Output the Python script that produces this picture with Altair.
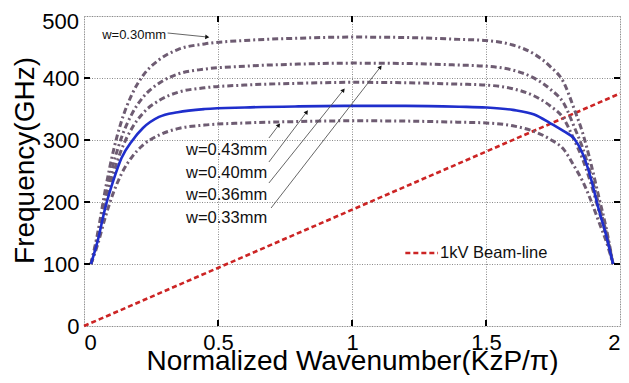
import math
import altair as alt
import pandas as pd

# ---- data ----
k_vals = [0.026, 0.05, 0.08, 0.11, 0.14, 0.18, 0.22, 0.28, 0.35, 0.45, 0.6, 0.8, 1.0,
          1.2, 1.4, 1.5, 1.6, 1.68, 1.74, 1.79, 1.83, 1.86, 1.89, 1.92, 1.95, 1.974]

f_w030 = [100, 147.6, 220.8, 283, 330.6, 374.5, 403.8, 429.4, 445.9, 455, 460.5, 464.2, 466,
          465.3, 462.3, 460.5, 453.2, 438.6, 418.4, 392.8, 348.9, 312.3, 264.7, 209.8, 154.9, 100]
f_w033 = [100, 142.1, 206.9, 262, 304.1, 343, 368.9, 391.6, 406.2, 414.3, 419.1, 422.4, 424,
          423.4, 420.8, 419.1, 412.7, 399.7, 381.9, 359.2, 320.3, 287.9, 245.8, 197.2, 148.6, 100]
f_w036 = [100, 138.1, 196.7, 246.5, 284.6, 319.8, 343.2, 363.7, 376.9, 384.2, 388.6, 391.5, 393,
          392.4, 390.1, 388.6, 382.7, 371, 354.9, 334.4, 299.2, 269.9, 231.9, 187.9, 144, 100]
f_w043 = [100, 130, 176.2, 215.5, 245.5, 273.3, 291.7, 307.9, 318.3, 324.1, 327.5, 329.8, 331,
          330.5, 328.7, 327.5, 322.9, 313.7, 301, 284.8, 257.1, 234, 204, 169.3, 134.7, 100]
f_w040 = [100, 135.7, 191.8, 235.2, 270.9, 298.9, 319.3, 337.2, 344.8, 349.9, 352.5, 354.2, 355,
          355, 353.7, 352.5, 348.6, 341, 327, 314.2, 301.5, 278.5, 240.3, 189.3, 143.4, 100]

beam_k = [0, 2]
beam_f = [0, 375]

x_ticks = [0, 0.5, 1, 1.5, 2]
y_ticks = [0, 100, 200, 300, 400, 500]
x_inner = [0.5, 1, 1.5]
y_inner = [100, 200, 300, 400]

# annotation labels (data coordinates)
lab_text = ["w=0.43mm", "w=0.40mm", "w=0.36mm", "w=0.33mm"]
lab_x = [0.532, 0.532, 0.532, 0.532]
lab_y = [284, 247, 211, 174]
top_text, top_x, top_y = "w=0.30mm", 0.187, 470
arr_x1 = [0.312, 0.690, 0.690, 0.690, 0.698]
arr_y1 = [472.6, 303.2, 264.5, 230.6, 190.3]
arr_x2 = [0.460, 0.727, 0.831, 0.968, 1.106]
arr_y2 = [466.1, 324.2, 345.2, 380.6, 417.7]

leg_text = "1kV Beam-line"
leg_x1, leg_x2, leg_y = 1.199, 1.321, 117.7

# ---- layout ----
W, H = 536, 310
FONT = "Liberation Sans"
xs = alt.Scale(domain=[0, 2], nice=False)
ys = alt.Scale(domain=[0, 500], nice=False)

ax_x = alt.Axis(values=x_ticks, format="~g", title="Normalized Wavenumber(KzP/π)",
                grid=True, gridDash=[1, 1.5], gridColor="#8a8a8a", gridWidth=1,
                ticks=False, domain=False, labelFont=FONT, labelFontSize=22,
                labelColor="black", labelPadding=6, titleFont=FONT, titleFontSize=28,
                titleFontWeight="normal", titleColor="black", titleY=43,
                titleBaseline="alphabetic")
ax_y = alt.Axis(values=y_ticks, title="Frequency(GHz)",
                labelExpr="datum.value == 500 ? '' : datum.label",
                grid=True, gridDash=[1, 1.5], gridColor="#8a8a8a", gridWidth=1,
                ticks=False, domain=False, labelFont=FONT, labelFontSize=22,
                labelColor="black", labelPadding=5, titleFont=FONT, titleFontSize=28,
                titleFontWeight="normal", titleColor="black", titleX=-59, titleY=144,
                titleBaseline="middle")


def X(f):
    return alt.X(f, type="quantitative", scale=xs, axis=ax_x)


def Y(f):
    return alt.Y(f, type="quantitative", scale=ys, axis=ax_y)


rows = []
for name, vals in [("w=0.30mm", f_w030), ("w=0.33mm", f_w033),
                   ("w=0.36mm", f_w036), ("w=0.43mm", f_w043)]:
    for kk, ff in zip(k_vals, vals):
        rows.append({"x": kk, "y": ff, "s": name})
df_dash = pd.DataFrame(rows)
df_blue = pd.DataFrame({"x": k_vals, "y": f_w040})
df_beam = pd.DataFrame({"x": beam_k, "y": beam_f})

dashed = alt.Chart(df_dash).mark_line(
    color="#6e5c72", strokeWidth=3, strokeDash=[6, 3, 2, 3], interpolate="monotone"
).encode(x=X("x"), y=Y("y"), detail="s:N")

blue = alt.Chart(df_blue).mark_line(
    color="#1f2ecc", strokeWidth=2.6, interpolate="monotone"
).encode(x=X("x"), y=Y("y"))

beam = alt.Chart(df_beam).mark_line(
    color="#cc2424", strokeWidth=2.6, strokeDash=[5, 3]
).encode(x=X("x"), y=Y("y"))

df_lab = pd.DataFrame({"x": lab_x, "y": lab_y, "t": lab_text})
labels = alt.Chart(df_lab).mark_text(
    font=FONT, fontSize=16.5, color="#111", align="center", baseline="middle"
).encode(x=X("x"), y=Y("y"), text="t:N")

df_lab0 = pd.DataFrame({"x": [top_x], "y": [top_y], "t": [top_text]})
label0 = alt.Chart(df_lab0).mark_text(
    font=FONT, fontSize=13, color="#111", align="center", baseline="middle"
).encode(x=X("x"), y=Y("y"), text="t:N")

angs = []
for a, b, c, d in zip(arr_x1, arr_y1, arr_x2, arr_y2):
    dxp = (c - a) * W / 2.0
    dyp = -(d - b) * H / 500.0
    angs.append(math.degrees(math.atan2(dxp, -dyp)) % 360)
df_arr = pd.DataFrame({"x": arr_x1, "y": arr_y1, "x2": arr_x2, "y2": arr_y2, "ang": angs})
arr_lines = alt.Chart(df_arr).mark_rule(color="#555", strokeWidth=0.9).encode(
    x=X("x"), y=Y("y"), x2="x2", y2="y2")
arr_heads = alt.Chart(df_arr).mark_point(
    shape="triangle-up", filled=True, color="#111", size=22, opacity=1
).encode(x=X("x2"), y=Y("y2"), angle=alt.Angle("ang:Q", scale=None))

df_leg = pd.DataFrame({"x": [leg_x1], "x2": [leg_x2], "y": [leg_y], "t": [leg_text]})
leg_line = alt.Chart(df_leg).mark_rule(color="#cc2424", strokeWidth=2.6, strokeDash=[5, 3]).encode(
    x=X("x"), x2="x2", y=Y("y"))
leg_text_m = alt.Chart(df_leg).mark_text(
    font=FONT, fontSize=16.5, color="#111", align="left", baseline="middle", dx=2
).encode(x=X("x2"), y=Y("y"), text="t:N")

# top y label, pushed down inside like the reference
df_top = pd.DataFrame({"y": [500], "t": ["500"]})
top_lab = alt.Chart(df_top).mark_text(
    font=FONT, fontSize=22, color="black", align="right", baseline="middle", dy=6
).encode(y=Y("y"), x=alt.value(-5), text="t:N")

# inward tick marks on all four sides
df_xt = pd.DataFrame({"x": x_inner})
df_yt = pd.DataFrame({"y": y_inner})
t_top = alt.Chart(df_xt).mark_rule(color="black", strokeWidth=2).encode(
    x=X("x"), y=alt.value(0), y2=alt.value(6))
t_bot = alt.Chart(df_xt).mark_rule(color="black", strokeWidth=2).encode(
    x=X("x"), y=alt.value(H), y2=alt.value(H - 6))
t_left = alt.Chart(df_yt).mark_rule(color="black", strokeWidth=2).encode(
    y=Y("y"), x=alt.value(0), x2=alt.value(6))
t_right = alt.Chart(df_yt).mark_rule(color="black", strokeWidth=2).encode(
    y=Y("y"), x=alt.value(W), x2=alt.value(W - 6))

chart = alt.layer(
    beam, dashed, blue, arr_lines, arr_heads, labels, label0, leg_line, leg_text_m, top_lab,
    t_top, t_bot, t_left, t_right
).properties(
    width=W, height=H,
    autosize=alt.AutoSizeParams(type="none"),
    padding={"left": 76, "top": 8, "right": 1, "bottom": 49},
).configure_view(
    stroke="black", strokeWidth=2
).configure(background="white")

chart.save("out.html", embed_options={"renderer": "svg", "actions": False})
